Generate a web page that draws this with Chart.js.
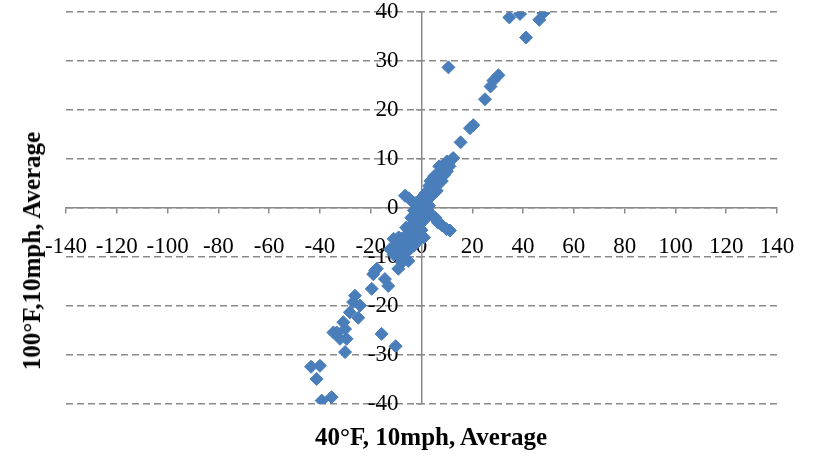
<!DOCTYPE html>
<html>
<head>
<meta charset="utf-8">
<script src="https://cdn.jsdelivr.net/npm/chart.js@4/dist/chart.umd.min.js"></script>
<style>
  body { margin: 0; background: #fff; }
  #wrap { position: relative; width: 815px; height: 456px; }
  .achse { position: absolute; font: bold 25px 'Liberation Serif', serif; color: #000; white-space: nowrap; }
  #titelX { left: 431px; top: 437px; transform: translate(-50%, -50%); }
  #titelY { left: 32px; top: 251px; transform: translate(-50%, -50%) rotate(-90deg); }
</style>
</head>
<body>
<div id="wrap">
  <canvas id="streuDiagramm" width="815" height="456"></canvas>
  <div class="achse" id="titelX">40°F, 10mph, Average</div>
  <div class="achse" id="titelY">100°F,10mph, Average</div>
</div>
<script>
// Mittelwerte je Messpunkt: 40°F/10mph (x) gegen 100°F/10mph (y)
const mittel40F = [
  34.6, 38.8, 41.2, 46.4, 48.0, 10.6, 30.3, 28.3, 27.2, 25.0, 20.4, 19.1, 15.4, 11.9, 10.6, 12.5,
  9.5, 8.7, 8.0, 7.4, 6.6, 6.0, 5.3, 4.6, 4.0, 3.4, 2.8, 2.2, 1.6, 1.0, 0.5, 0.0, -0.6, -1.2, -2.0,
  -2.8, -3.5, -4.3, -5.0, -6.0, -7.0, -8.0, -9.0, -10.0,
  6.0, 4.0, 2.0, 8.0, 3.0, 5.0, 1.5, 0.0, -1.0, -2.0, -3.0, -1.0, 1.0, -4.0, -5.0, -3.0, -6.0, -2.0, 0.0, 2.0, 7.0, 10.0,
  -11.0, -10.0, -9.0, -8.0, -7.0, -6.0, -5.0, -4.0, -3.0, -2.0, -1.0, 1.0, 2.0, 3.0, 4.0, 5.0, 6.0, 7.0,
  8.0, 9.0, 10.0, 11.0, -4.0, -2.0, 0.0, 1.0, 3.0, 4.0, 5.0, 6.0, -1.0, -3.0, 2.0, 0.5, -0.5, 7.0, 9.0, 3.5,
  -6.5, -5.0, -4.0, -2.5, 2.5, 4.0, 5.5, 6.5, 8.0, 9.9, 11.2,
  -11.0, -9.0, -7.0, -5.0, -3.0, -1.0, 1.0, -12.4, -10.0, -6.0, -5.8, -7.8, -5.2, -7.2, -9.1,
  -17.6, -19.0, -18.3, -14.4, -13.1, -19.6, -26.2, -26.9, -24.2, -28.2, -24.9, -30.8, -33.4, -30.1,
  -32.1, -34.7, -29.5, -30.1, -15.7, -10.2, -43.5, -40.0, -41.3, -39.3, -35.4
];
const mittel100F = [
  38.9, 39.6, 34.8, 38.4, 39.8, 28.7, 27.1, 26.0, 24.8, 22.2, 16.9, 16.3, 13.4, 9.9, 9.0, 10.2,
  8.6, 7.8, 7.2, 6.6, 6.1, 5.5, 5.0, 4.4, 4.0, 3.2, 2.6, 2.0, 1.5, 0.9, 0.3, 0.0, -0.4, -1.0, -1.8,
  -2.4, -3.2, -4.0, -4.6, -5.6, -6.6, -7.5, -8.5, -9.3,
  3.5, 2.5, 0.5, 5.5, 4.5, 6.5, 3.0, 2.0, 0.5, 0.8, -0.5, -2.5, -1.5, -2.0, -6.5, -5.0, -4.0, -4.0, -3.0, 1.0, 8.5, 7.5,
  -9.5, -7.5, -9.8, -6.2, -8.5, -7.2, -5.5, -5.8, -3.5, -2.8, -1.2, 0.2, 2.8, 2.0, 3.3, 4.0, 6.8, 5.2,
  7.0, 8.0, 9.5, 8.5, -7.0, -6.0, -4.5, -2.5, 0.5, 5.5, 3.0, 4.5, 1.5, -1.5, -0.3, -1.0, 1.0, 7.0, 6.8, 5.5,
  2.5, 2.0, 1.5, 1.0, -0.5, -1.5, -2.0, -3.0, -3.5, -4.3, -4.6,
  -6.3, -6.0, -7.0, -7.5, -7.7, -6.5, -6.0, -8.4, -8.5, -9.0, -9.0, -11.1, -10.8, -10.8, -12.4,
  -12.4, -13.5, -12.8, -14.5, -15.9, -16.5, -17.9, -19.2, -19.9, -21.3, -22.4, -23.3, -25.4, -24.7,
  -26.7, -25.4, -26.7, -29.4, -25.7, -28.2, -32.4, -32.2, -34.9, -39.3, -38.6
];
const tickWerteX = [-140, -120, -100, -80, -60, -40, -20, 0, 20, 40, 60, 80, 100, 120, 140];
const tickWerteY = [-40, -30, -20, -10, 0, 10, 20, 30, 40];

const punkte = mittel40F.map((x, i) => ({ x: x, y: mittel100F[i] }));

const schrift = { family: "'Liberation Serif', serif", size: 23, lineHeight: 1 };
const grau = '#8a8a8a';

const zeichenflaeche = document.getElementById('streuDiagramm').getContext('2d');
const streuDiagramm = new Chart(zeichenflaeche, {
  type: 'scatter',
  data: {
    datasets: [{
      data: punkte,
      pointStyle: 'rectRot',
      pointRadius: 6.5,
      pointBorderWidth: 1,
      backgroundColor: '#4a7ebb',
      borderColor: '#4a7ebb'
    }]
  },
  options: {
    responsive: false,
    animation: false,
    layout: { padding: { left: 66, right: 38, top: 12, bottom: 52 } },
    plugins: {
      legend: { display: false },
      tooltip: { enabled: false }
    },
    scales: {
      x: {
        type: 'linear',
        position: { y: 0 },
        min: -140,
        max: 140,
        afterBuildTicks: achse => { achse.ticks = tickWerteX.map(v => ({ value: v })); },
        ticks: { color: '#000', font: { ...schrift, lineHeight: 1.2 }, padding: 20, maxRotation: 0, autoSkip: false },
        grid: { drawOnChartArea: false, drawTicks: true, tickLength: 5, color: grau, lineWidth: 1.5 },
        border: { color: grau, width: 1.5 }
      },
      y: {
        type: 'linear',
        position: { x: 0 },
        min: -40,
        max: 40,
        afterBuildTicks: achse => { achse.ticks = tickWerteY.map(v => ({ value: v })); },
        // Beschriftung steht rechtsbündig an der Achse, Leerzeichen halten Abstand
        ticks: { color: '#000', font: schrift, padding: 0, autoSkip: false, callback: v => v + '    ' },
        grid: { color: grau, lineWidth: 1.5, tickLength: 5, tickBorderDash: [] },
        border: { color: grau, width: 1.5, dash: [7, 4] }
      }
    }
  }
});
</script>
</body>
</html>
